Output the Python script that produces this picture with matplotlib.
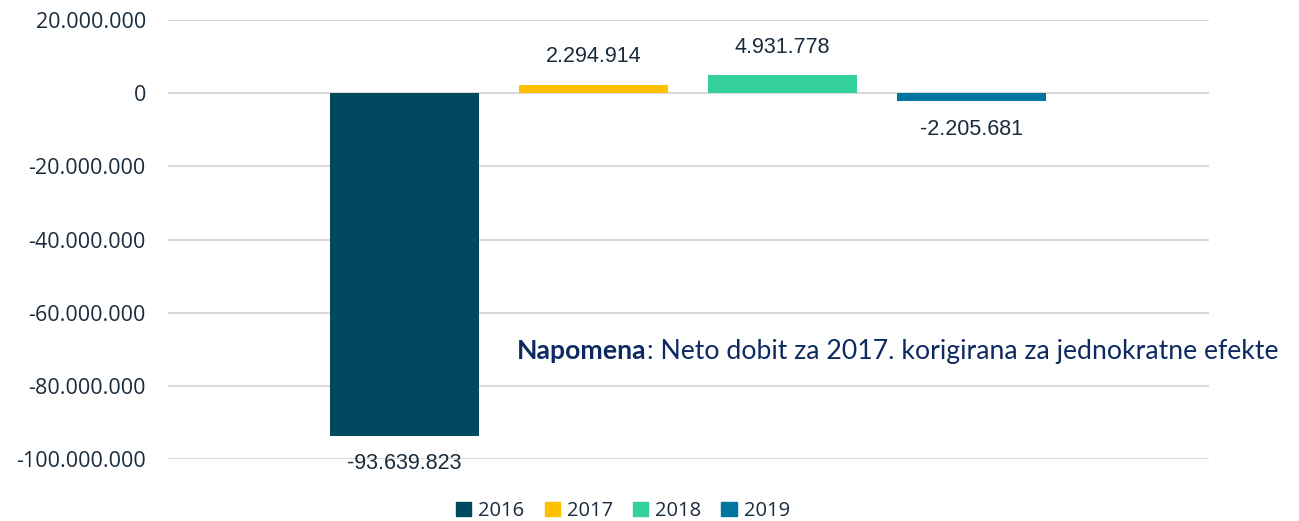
import numpy as np
import matplotlib.pyplot as plt

years = ['2016', '2017', '2018', '2019']
neto_dobit = [-93639823, 2294914, 4931778, -2205681]
bar_colors = ['#00495F', '#FFC000', '#33D09B', '#00759F']
yticks = [20000000, 0, -20000000, -40000000, -60000000, -80000000, -100000000]

def fmt(v):
	# thousands with dots, as in the original
	s = '{:,}'.format(abs(int(v))).replace(',', '.')
	return '-' + s if v < 0 else s

txt_col = '#1A2B3C'

fig = plt.figure(figsize=(12.99, 5.21), dpi=100)
ax = fig.add_axes([168/1299, 1-459/521, (1209-168)/1299, (459-20)/521])

x = np.arange(len(years))
bars = ax.bar(x, neto_dobit, width=149/189, color=bar_colors, zorder=3)

for xi, v in zip(x, neto_dobit):
	off = 20 if v >= 0 else -20
	ax.annotate(fmt(v), (xi, v), xytext=(0, off), textcoords='offset points',
	            ha='center', va='center', fontsize=15.5, color=txt_col,
	            family='Liberation Sans')

ax.set_xlim(-1.251, 4.257)
ax.set_ylim(-100000000, 20000000)
ax.set_yticks(yticks)
ax.set_yticklabels([fmt(t) for t in yticks], family='Open Sans', fontsize=15.5, color=txt_col)
ax.set_xticks([])
ax.grid(axis='y', color='#D9D9D9', linewidth=1.5, zorder=0)
ax.tick_params(axis='y', length=0, pad=16)
for s in ax.spines.values():
	s.set_visible(False)

t1 = fig.text(517/1299, 1-351/521, 'Napomena', fontsize=19.2, fontweight='bold',
              color='#0E2A63', family='Lato', va='center', ha='left')
fig.canvas.draw()
bb = t1.get_window_extent()
fig.text(bb.x1/1299, 1-351/521, ': Neto dobit za 2017. korigirana za jednokratne efekte',
         fontsize=19.2, color='#0E2A63', family='Lato', va='center', ha='left')

handles = [plt.Rectangle((0, 0), 1, 1, color=c) for c in bar_colors]
fig.legend(handles, years, loc='center', bbox_to_anchor=(623/1299, 1-511/521), ncol=4,
           frameon=False, handlelength=0.75, handleheight=0.75, handletextpad=0.35,
           columnspacing=1.0, prop={'family': 'Open Sans', 'size': 14.5}, labelcolor=txt_col)

fig.savefig('out.png', dpi=100)
